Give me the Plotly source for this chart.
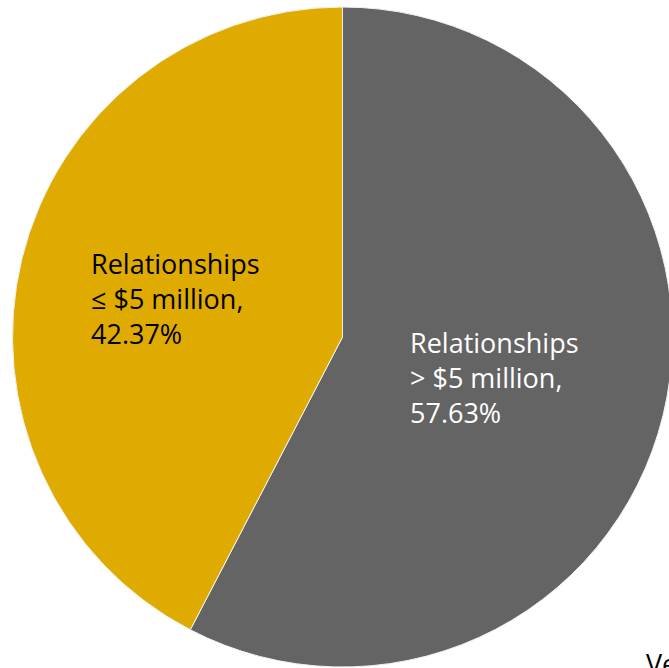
import plotly.graph_objects as go

# Share of relationships by size bucket (percent)
labels = ["Relationships<br>> $5 million", "Relationships<br>≤ $5 million"]
values = [57.63, 42.37]
colors = ["#646464", "#DFAB00"]
text_colors = ["#FFFFFF", "#000000"]

W, H = 685, 668
FONT = "Open Sans, Calibri, sans-serif"

fig = go.Figure(
    go.Pie(
        labels=labels,
        values=values,
        sort=False,
        direction="clockwise",
        rotation=0,
        textinfo="none",
        hoverinfo="label+percent",
        marker=dict(colors=colors, line=dict(color="#F2F2F2", width=1)),
        domain=dict(x=[0, 1], y=[1 / H, 661 / H]),
        showlegend=False,
    )
)

# Slice labels, text built from the same values as the slices
label_pos = [(408, 377), (89, 298)]  # left edge / vertical middle, in px
annotations = []
for lab, val, tc, (px, py) in zip(labels, values, text_colors, label_pos):
    annotations.append(
        dict(
            text=f"{lab},<br>{val:.2f}%",
            x=px / W,
            y=1 - py / H,
            xref="paper",
            yref="paper",
            xanchor="left",
            yanchor="middle",
            align="left",
            showarrow=False,
            font=dict(family=FONT, size=27, color=tc),
        )
    )

# Caption at the bottom-right corner, running off the page edge
annotations.append(
    dict(
        text="Ve",
        x=644 / W,
        y=1 - 643 / H,
        xref="paper",
        yref="paper",
        xanchor="left",
        yanchor="top",
        showarrow=False,
        font=dict(family=FONT, size=27, color="#000000"),
    )
)

fig.update_layout(
    width=W,
    height=H,
    margin=dict(l=0, r=0, t=0, b=0),
    paper_bgcolor="white",
    plot_bgcolor="white",
    annotations=annotations,
)

fig.write_html("out.html")
